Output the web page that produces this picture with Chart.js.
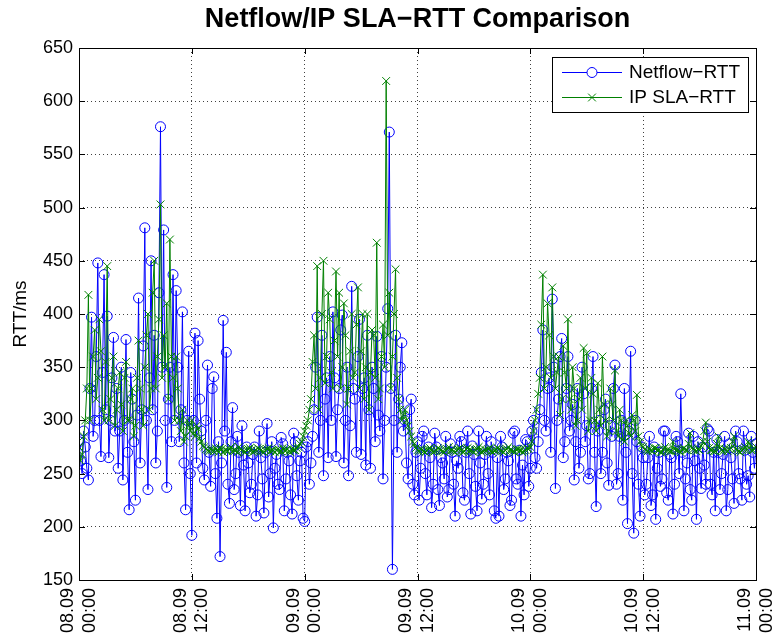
<!DOCTYPE html>
<html>
<head>
<meta charset="utf-8">
<script src="https://cdn.jsdelivr.net/npm/chart.js@4.4.1/dist/chart.umd.min.js"></script>
<style>
  body { margin: 0; background: #fff; }
  canvas { display: block; }
</style>
</head>
<body>
<canvas id="rttChart" width="775" height="637"></canvas>
<script>
// Data (one sample every 10 minutes, 08.09 00:00 -> 11.09 00:00)
const sampleStepHours = 10 / 60;

const netflowRtt = [
  // 08.09 00:00 - 12:00
  280, 262, 250, 290, 275, 255, 244, 330, 397, 285, 300, 360, 448, 300, 266, 345, 437, 310, 398, 265,
  300, 340, 378, 290, 330, 255, 290, 350, 244, 300, 376, 270, 216, 345, 320, 280, 225, 305, 415, 260,
  310, 370, 481, 300, 235, 340, 450, 310, 380, 260, 290, 420, 576, 350, 479, 300, 237, 320, 350, 280,
  437, 300, 422, 350, 280, 310, 402, 260, 216, 300, 365, 250,
  // 08.09 12:00 - 09.09 00:40
  192, 300, 382, 260, 375, 320, 290, 255, 244, 300, 352, 270, 238, 330, 341, 250, 208, 280, 172, 260,
  394, 290, 364, 240, 222, 280, 312, 235, 250, 285, 270, 220, 295, 258, 215, 275, 260, 232, 240, 268,
  275, 210, 230, 290, 265, 245, 213, 270, 297, 228, 250, 280, 199, 255, 268, 240, 235, 284, 278, 215,
  245, 270, 262, 230, 212, 288, 280, 248, 225, 262, 270, 208, 205, 275, 280, 240,
  // 09.09 00:40 - 10:40
  260, 285, 310, 350, 397, 270, 300, 380, 248, 320, 340, 265, 360, 300, 402, 340, 266, 310, 330, 385,
  399, 260, 300, 350, 248, 295, 426, 330, 320, 270, 360, 395, 268, 330, 340, 258, 380, 310, 255, 350,
  330, 280, 379, 305, 290, 360, 245, 300, 350, 405, 571, 330, 160, 300, 380, 270, 320, 350, 373, 290,
  // 09.09 10:40 - 10.09 00:40
  300, 260, 245, 310, 320, 240, 230, 270, 280, 225, 255, 285, 290, 250, 230, 275, 265, 218, 240, 288,
  275, 235, 220, 265, 260, 245, 285, 228, 235, 278, 270, 240, 210, 262, 255, 285, 280, 232, 225, 270,
  290, 250, 212, 276, 268, 238, 215, 290, 260, 226, 240, 268, 285, 250, 230, 280, 270, 215, 208, 265,
  210, 285, 275, 235, 245, 270, 262, 220, 225, 288, 290, 245, 240, 272, 210, 258, 230, 282, 280, 238,
  255, 290, 300, 265,
  // 10.09 00:40 - 12:20
  255, 280, 310, 345, 385, 300, 290, 330, 340, 270, 414, 350, 236, 300, 320, 360, 377, 265, 280, 330,
  360, 290, 300, 315, 244, 280, 330, 255, 270, 350, 325, 280, 295, 245, 250, 330, 360, 270, 219, 290,
  300, 250, 270, 310, 320, 260, 239, 295, 285, 330, 352, 240, 250, 285, 300, 225, 330, 270, 203, 290,
  365, 250, 194, 300, 280, 240, 210, 275, 265, 230,
  // 10.09 12:20 - 11.09 00:00
  240, 265, 285, 220, 230, 275, 207, 255, 270, 238, 245, 290, 290, 232, 225, 268, 265, 212, 240, 285,
  280, 250, 325, 270, 215, 245, 260, 288, 235, 225, 285, 262, 207, 280, 255, 236, 275, 258, 240, 292,
  290, 240, 230, 270, 215, 282, 270, 235, 250, 268, 285, 215, 235, 278, 265, 245, 222, 290, 280, 250,
  245, 225, 290, 272, 240, 248, 228, 285, 270, 255, 278
];

const ipSlaRtt = [
  // 08.09 00:00 - 12:00
  275, 262, 268, 285, 300, 330, 418, 300, 330, 360, 385, 320, 340, 395, 365, 310, 300, 355, 445, 300,
  320, 340, 360, 295, 310, 330, 345, 315, 290, 340, 355, 300, 300, 320, 330, 285, 295, 340, 375, 330,
  310, 295, 350, 380, 400, 310, 330, 420, 450, 330, 360, 395, 503, 340, 380, 350, 410, 320, 470, 360,
  340, 300, 360, 330, 300, 290, 310, 280, 285, 300, 295, 290,
  // 08.09 12:00 - 09.09 00:40
  300, 288, 285, 295, 292, 283, 280, 276, 275, 273, 272, 271, 273, 272, 271, 274, 272, 270, 274, 273,
  270, 272, 272, 271, 273, 275, 271, 272, 272, 270, 275, 273, 272, 271, 270, 272, 273, 274, 272, 270,
  271, 272, 274, 273, 272, 271, 270, 272, 273, 274, 271, 272, 272, 270, 272, 273, 270, 271, 274, 272,
  272, 273, 271, 270, 273, 272, 272, 274, 275, 278, 280, 285, 290, 295, 300, 310,
  // 09.09 00:40 - 10:40
  320, 355, 380, 330, 445, 310, 340, 400, 450, 335, 360, 420, 395, 345, 330, 375, 440, 360, 420, 330,
  350, 410, 380, 315, 330, 365, 400, 340, 345, 390, 425, 330, 365, 400, 320, 350, 400, 310, 345, 385,
  380, 340, 467, 320, 330, 360, 390, 350, 619, 380, 420, 330, 360, 400, 442, 340, 320, 310, 300, 305,
  // 09.09 10:40 - 10.09 00:40
  310, 300, 295, 290, 285, 280, 278, 274, 272, 271, 273, 272, 271, 270, 272, 273, 274, 272, 270, 271,
  272, 274, 273, 272, 271, 270, 272, 273, 275, 272, 272, 271, 270, 272, 273, 274, 272, 270, 271, 273,
  274, 272, 272, 271, 270, 272, 273, 275, 272, 270, 271, 272, 272, 273, 274, 271, 270, 272, 272, 274,
  273, 272, 271, 270, 272, 273, 275, 272, 272, 271, 270, 273, 273, 272, 272, 270, 271, 272, 274, 273,
  275, 280, 290, 300,
  // 10.09 00:40 - 12:20
  310, 325, 340, 390, 437, 330, 350, 410, 380, 340, 425, 360, 330, 345, 360, 305, 320, 370, 345, 330,
  395, 320, 310, 350, 330, 295, 300, 320, 340, 310, 368, 330, 363, 290, 300, 340, 325, 300, 290, 335,
  310, 295, 360, 315, 300, 285, 290, 330, 315, 300, 347, 290, 285, 310, 300, 282, 280, 300, 295, 288,
  285, 305, 300, 290, 324, 285, 280, 276, 275, 273,
  // 10.09 12:20 - 11.09 00:00
  272, 271, 273, 272, 271, 274, 274, 272, 272, 270, 270, 273, 275, 272, 272, 271, 271, 280, 273, 272,
  272, 271, 270, 273, 274, 272, 272, 278, 288, 274, 273, 272, 271, 273, 272, 276, 280, 290, 298, 280,
  274, 272, 272, 271, 271, 278, 285, 274, 272, 271, 273, 272, 271, 273, 274, 280, 285, 273, 272, 271,
  270, 272, 273, 275, 272, 280, 278, 272, 272, 273, 275
];

const xTickHours = [0, 12, 24, 36, 48, 60, 72];
const xTickLabels = [
  ['08.09', '00:00'], ['08.09', '12:00'], ['09.09', '00:00'], ['09.09', '12:00'],
  ['10.09', '00:00'], ['10.09', '12:00'], ['11.09', '00:00']
];

const toPoints = (values) => values.map((v, i) => ({ x: i * sampleStepHours, y: v }));

Chart.defaults.font.family = '"Liberation Sans", Arial, Helvetica, sans-serif';
Chart.defaults.color = '#000';

// MATLAB style box with inward ticks
const axesBox = {
  id: 'axesBox',
  afterDatasetsDraw(chart) {
    const { ctx, chartArea: a, scales } = chart;
    const len = 6;
    ctx.save();
    ctx.strokeStyle = '#000';
    ctx.lineWidth = 1;
    ctx.beginPath();
    scales.x.ticks.forEach(t => {
      const px = Math.round(scales.x.getPixelForValue(t.value)) + 0.5;
      ctx.moveTo(px, a.bottom); ctx.lineTo(px, a.bottom - len);
      ctx.moveTo(px, a.top); ctx.lineTo(px, a.top + len);
    });
    scales.y.ticks.forEach(t => {
      const py = Math.round(scales.y.getPixelForValue(t.value)) + 0.5;
      ctx.moveTo(a.left, py); ctx.lineTo(a.left + len, py);
      ctx.moveTo(a.right, py); ctx.lineTo(a.right - len, py);
    });
    ctx.stroke();
    ctx.strokeRect(Math.round(a.left) + 0.5, Math.round(a.top) + 0.5,
      Math.round(a.right - a.left), Math.round(a.bottom - a.top));
    ctx.restore();
  }
};

// legend box in the upper right corner
const boxLegend = {
  id: 'boxLegend',
  afterDraw(chart) {
    const { ctx, chartArea: a } = chart;
    const w = 196, h = 55;
    const x0 = a.right - 8 - w, y0 = a.top + 9;
    ctx.save();
    ctx.fillStyle = '#fff';
    ctx.fillRect(x0, y0, w, h);
    ctx.strokeStyle = '#000';
    ctx.lineWidth = 1;
    ctx.strokeRect(x0 + 0.5, y0 + 0.5, w, h);
    chart.data.datasets.forEach((ds, i) => {
      const cy = y0 + 15 + i * 25;
      ctx.strokeStyle = ds.borderColor;
      ctx.lineWidth = 1;
      ctx.beginPath();
      ctx.moveTo(x0 + 10, cy + 0.5);
      ctx.lineTo(x0 + 70, cy + 0.5);
      ctx.stroke();
      Chart.helpers.drawPoint(ctx, {
        pointStyle: ds.pointStyle, radius: ds.pointRadius, borderWidth: 1
      }, x0 + 40, cy + 0.5);
      ctx.fillStyle = '#000';
      ctx.font = '19px "Liberation Sans", Arial, sans-serif';
      ctx.textBaseline = 'middle';
      ctx.fillText(ds.label, x0 + 77, cy + 1);
    });
    ctx.restore();
  }
};

const ctx = document.getElementById('rttChart').getContext('2d');

const rttChart = new Chart(ctx, {
  type: 'line',
  data: {
    datasets: [
      {
        label: 'Netflow\u2212RTT',
        data: toPoints(netflowRtt),
        borderColor: '#0000ff',
        borderWidth: 1,
        pointStyle: 'circle',
        pointRadius: 5,
        pointBorderColor: '#0000ff',
        pointBackgroundColor: 'rgba(0,0,0,0)',
        pointBorderWidth: 1,
        tension: 0,
        order: 2
      },
      {
        label: 'IP SLA\u2212RTT',
        data: toPoints(ipSlaRtt),
        borderColor: '#008000',
        borderWidth: 1,
        pointStyle: 'crossRot',
        pointRadius: 5.5,
        pointBorderColor: '#008000',
        pointBorderWidth: 1,
        tension: 0,
        order: 1
      }
    ]
  },
  options: {
    responsive: false,
    animation: false,
    events: [],
    layout: { padding: { left: 0, right: 19, top: 0, bottom: 0 } },
    scales: {
      x: {
        type: 'linear',
        min: 0,
        max: 72,
        afterBuildTicks: (scale) => { scale.ticks = xTickHours.map(v => ({ value: v })); },
        afterFit: (scale) => { scale.height = 57; scale.paddingLeft = 0; scale.paddingRight = 0; },
        grid: { color: 'rgba(0,0,0,0.75)', lineWidth: 1, drawTicks: false },
        border: { display: false, dash: [1, 3] },
        ticks: {
          autoSkip: false,
          maxRotation: 90,
          minRotation: 90,
          padding: 8,
          labelOffset: -11,
          font: { size: 18, lineHeight: 1.2 },
          callback: (value) => xTickLabels[xTickHours.indexOf(value)]
        }
      },
      y: {
        min: 150,
        max: 650,
        afterFit: (scale) => { scale.width = 79; },
        grid: { color: 'rgba(0,0,0,0.75)', lineWidth: 1, drawTicks: false },
        border: { display: false, dash: [1, 3] },
        ticks: { stepSize: 50, padding: 6, font: { size: 18 } },
        title: { display: true, text: 'RTT/ms', font: { size: 19 }, padding: { top: 9, bottom: 0 } }
      }
    },
    plugins: {
      legend: { display: false },
      tooltip: { enabled: false },
      title: {
        display: true,
        fullSize: false,
        text: 'Netflow/IP SLA\u2212RTT Comparison',
        font: { size: 27, weight: 'bold', lineHeight: 1.2 },
        padding: { top: 3, bottom: 12.6 },
        color: '#000'
      }
    }
  },
  plugins: [axesBox, boxLegend]
});
</script>
</body>
</html>
